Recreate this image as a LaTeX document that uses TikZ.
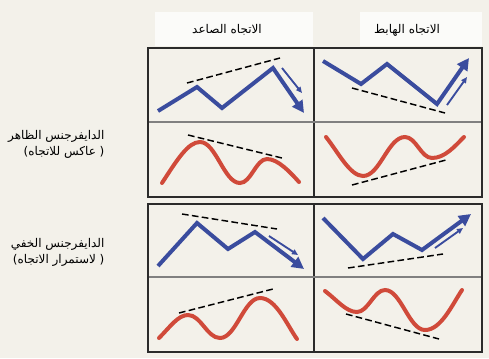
\documentclass[tikz,border=0pt]{standalone}
\usepackage{fontspec}
\newfontfamily\arabicfont[Script=Arabic]{DejaVu Sans}
\TeXXeTstate=1
\usetikzlibrary{arrows.meta,positioning}
\definecolor{paper}{HTML}{F3F1EA}
\definecolor{trendblue}{HTML}{3A4C9E}
\definecolor{oscred}{HTML}{D04A3A}
\definecolor{framedark}{HTML}{2B2B2B}

\begin{document}
\begin{tikzpicture}[x=0.75pt,y=-0.75pt,
    frame/.style={framedark,line width=2.2pt},
    divider/.style={framedark,line width=1.2pt},
    midline/.style={gray,line width=1pt},
    price/.style={trendblue,line width=3pt},
    pricearrow/.style={price,-{Triangle[length=9pt,width=9pt]}},
    osc/.style={oscred,line width=3pt,line cap=round},
    trendline/.style={black,line width=1.1pt,dash pattern=on 5pt off 2.5pt},
    hint/.style={trendblue,line width=1.4pt,-{Triangle[length=4.5pt,width=4pt]}},
    lbl/.style={font=\arabicfont\fontsize{9}{12}\selectfont,align=right,inner sep=1pt}]
\useasboundingbox[fill=paper] (0,0) rectangle (489,358);

% header boxes
\fill[white!70!paper] (155,12) rectangle (313,46);
\fill[white!70!paper] (360,12) rectangle (482,46);
\node[lbl] (hdrup) at (227,30) {\beginR الاتجاه الصاعد\endR};
\node[lbl] (hdrdown) at (407,30) {\beginR الاتجاه الهابط\endR};

% row labels
\node[lbl,anchor=east] (regular) at (106,144) {\beginR الدايفرجنس الظاهر\endR\\\beginR( عاكس للاتجاه)\endR};
\node[lbl,anchor=east] (hidden) at (106,252) {\beginR الدايفرجنس الخفي\endR\\\beginR( لاستمرار الاتجاه)\endR};

% frames
\draw[divider] (314,48) -- (314,197);
\draw[divider] (314,204) -- (314,352);
\draw[midline] (148,122) -- (482,122);
\draw[midline] (148,277) -- (482,277);
\draw[frame] (148,48) rectangle (482,197);
\draw[frame] (148,204) rectangle (482,352);

%% regular, up
\draw[pricearrow] (158,111) -- (197,87) -- (222,108) -- (273,68) -- (304,113);
\draw[trendline] (187,83) -- (280,58);
\draw[hint] (282,68) -- (302,93);
\draw[osc] (162,183) .. controls (177,160) and (188,142) .. (200,142)
    .. controls (216,142) and (224,183) .. (240,183)
    .. controls (251,183) and (256,159) .. (267,159)
    .. controls (278,159) and (290,172) .. (299,182);
\draw[trendline] (188,135) -- (282,158);

%% regular, down
\draw[pricearrow] (323,61) -- (361,84) -- (387,64) -- (437,104) -- (469,58);
\draw[trendline] (352,88) -- (445,113);
\draw[hint] (447,105) -- (467,77);
\draw[osc] (326,137) .. controls (338,152) and (350,176) .. (363,176)
    .. controls (380,176) and (388,137) .. (405,137)
    .. controls (416,137) and (421,158) .. (432,158)
    .. controls (445,158) and (455,146) .. (464,137);
\draw[trendline] (352,185) -- (446,160);

%% hidden, up
\draw[pricearrow] (158,266) -- (197,223) -- (228,249) -- (255,232) -- (304,269);
\draw[trendline] (182,214) -- (277,229);
\draw[hint] (269,236) -- (298,255);
\draw[osc] (159,338) .. controls (170,327) and (178,315) .. (188,315)
    .. controls (201,315) and (207,338) .. (220,338)
    .. controls (236,338) and (244,298) .. (260,298)
    .. controls (276,298) and (287,325) .. (297,339);
\draw[trendline] (179,313) -- (273,289);

%% hidden, down
\draw[pricearrow] (323,218) -- (363,259) -- (393,234) -- (422,250) -- (471,214);
\draw[trendline] (348,268) -- (443,254);
\draw[hint] (435,248) -- (463,228);
\draw[osc] (325,291) .. controls (337,300) and (346,312) .. (357,312)
    .. controls (368,312) and (374,290) .. (385,290)
    .. controls (401,290) and (409,330) .. (425,330)
    .. controls (441,330) and (452,305) .. (462,290);
\draw[trendline] (346,314) -- (439,339);

\end{tikzpicture}
\end{document}
